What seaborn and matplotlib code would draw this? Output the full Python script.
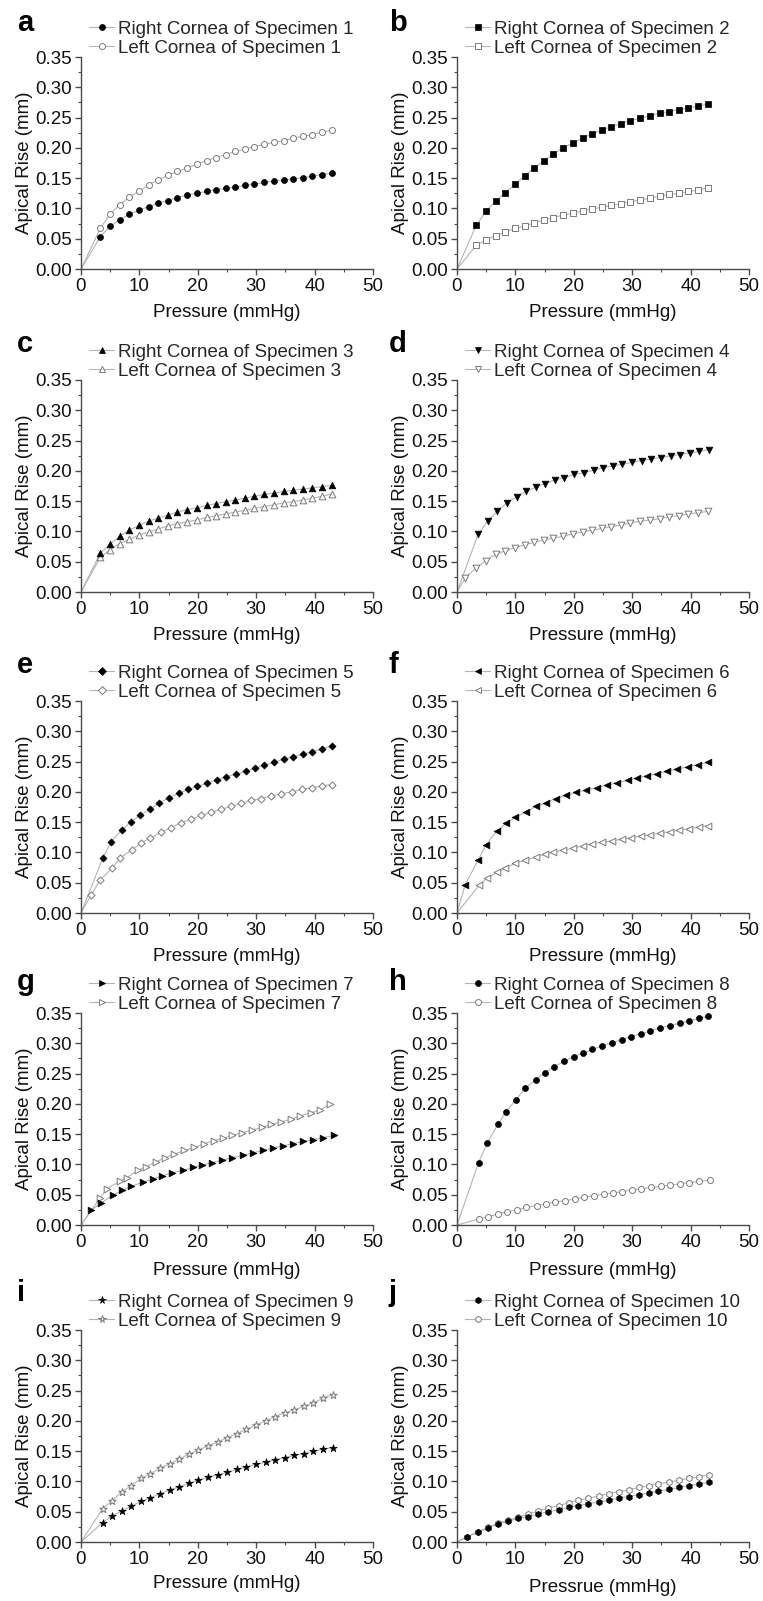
import numpy as np
import matplotlib
matplotlib.use("Agg")
import matplotlib.pyplot as plt
import seaborn as sns
from matplotlib.lines import Line2D
from matplotlib.ticker import MultipleLocator, FormatStrFormatter

# ---------------- data ----------------
P_STD = [3.3, 5.0, 6.6, 8.3, 9.9, 11.6, 13.2, 14.9, 16.5, 18.2, 19.8, 21.5, 23.1,
         24.8, 26.4, 28.1, 29.7, 31.4, 33.0, 34.7, 36.3, 38.0, 39.6, 41.3, 42.9]

A_RIGHT = [0.053, 0.071, 0.081, 0.090, 0.097, 0.103, 0.109, 0.113, 0.118, 0.122, 0.125, 0.128, 0.131,
           0.133, 0.135, 0.138, 0.140, 0.143, 0.145, 0.147, 0.149, 0.151, 0.153, 0.156, 0.158]
A_LEFT = [0.067, 0.091, 0.106, 0.119, 0.128, 0.139, 0.147, 0.155, 0.161, 0.167, 0.173, 0.179, 0.184,
          0.189, 0.194, 0.198, 0.202, 0.206, 0.209, 0.212, 0.216, 0.219, 0.222, 0.226, 0.229]

B_RIGHT = [0.072, 0.096, 0.112, 0.126, 0.140, 0.154, 0.167, 0.179, 0.190, 0.200, 0.208, 0.216, 0.223,
           0.229, 0.235, 0.240, 0.245, 0.249, 0.253, 0.257, 0.260, 0.263, 0.266, 0.269, 0.272]
B_LEFT = [0.039, 0.048, 0.055, 0.061, 0.067, 0.071, 0.076, 0.081, 0.085, 0.089, 0.092, 0.096, 0.099,
          0.102, 0.105, 0.108, 0.111, 0.114, 0.117, 0.120, 0.123, 0.125, 0.128, 0.130, 0.134]

C_RIGHT = [0.064, 0.079, 0.092, 0.102, 0.110, 0.117, 0.122, 0.127, 0.132, 0.136, 0.139, 0.143, 0.146,
           0.149, 0.152, 0.155, 0.158, 0.161, 0.163, 0.166, 0.168, 0.170, 0.172, 0.174, 0.176]
C_LEFT = [0.057, 0.070, 0.080, 0.087, 0.094, 0.099, 0.104, 0.109, 0.113, 0.116, 0.119, 0.123, 0.126,
          0.129, 0.132, 0.135, 0.138, 0.141, 0.144, 0.147, 0.149, 0.152, 0.155, 0.158, 0.162]

D_RIGHT_P = [3.6, 5.3, 6.9, 8.5, 10.2, 11.8, 13.5, 15.1, 16.8, 18.4, 20.1, 21.7, 23.4,
             25.0, 26.7, 28.3, 30.0, 31.6, 33.3, 34.9, 36.6, 38.2, 39.9, 41.5, 43.1]
D_RIGHT = [0.095, 0.118, 0.133, 0.147, 0.157, 0.166, 0.173, 0.179, 0.185, 0.189, 0.194, 0.197, 0.201,
           0.205, 0.208, 0.211, 0.214, 0.217, 0.220, 0.222, 0.225, 0.227, 0.230, 0.232, 0.235]
D_LEFT_P = [1.4, 3.3, 5.0, 6.6, 8.3, 9.9, 11.6, 13.2, 14.9, 16.5, 18.2, 19.8, 21.5,
            23.1, 24.8, 26.4, 28.1, 29.7, 31.4, 33.0, 34.7, 36.3, 38.0, 39.6, 41.3, 42.9]
D_LEFT = [0.023, 0.040, 0.052, 0.062, 0.068, 0.073, 0.078, 0.082, 0.086, 0.089, 0.092, 0.096, 0.099,
          0.102, 0.105, 0.108, 0.111, 0.114, 0.117, 0.119, 0.121, 0.124, 0.126, 0.129, 0.131, 0.133]

E_RIGHT_P = [3.7, 5.1, 7.0, 8.6, 10.1, 11.8, 13.4, 15.0, 16.8, 18.4, 19.9, 21.5, 23.3,
             24.8, 26.5, 28.2, 29.8, 31.4, 33.1, 34.7, 36.3, 38.0, 39.5, 41.3, 42.9]
E_RIGHT = [0.090, 0.117, 0.137, 0.151, 0.161, 0.171, 0.182, 0.190, 0.198, 0.204, 0.209, 0.214, 0.220,
           0.225, 0.229, 0.234, 0.239, 0.244, 0.249, 0.254, 0.258, 0.262, 0.266, 0.271, 0.276]
E_LEFT_P = [1.7, 3.3, 5.3, 6.7, 8.7, 10.2, 11.9, 13.7, 15.4, 17.1, 18.8, 20.6, 22.2,
            23.9, 25.7, 27.4, 29.1, 30.8, 32.5, 34.2, 36.1, 37.8, 39.5, 41.3, 43.0]
E_LEFT = [0.029, 0.055, 0.074, 0.091, 0.104, 0.115, 0.124, 0.133, 0.141, 0.149, 0.155, 0.161, 0.166,
          0.171, 0.176, 0.181, 0.186, 0.189, 0.193, 0.197, 0.200, 0.204, 0.207, 0.210, 0.212]

F_RIGHT_P = [1.4, 3.6, 5.0, 6.8, 8.4, 10.0, 11.8, 13.5, 15.3, 16.9, 18.6, 20.4, 22.1,
             23.9, 25.6, 27.4, 29.2, 30.9, 32.6, 34.2, 35.9, 37.7, 39.5, 41.2, 43.0]
F_RIGHT = [0.047, 0.087, 0.113, 0.135, 0.148, 0.158, 0.167, 0.176, 0.182, 0.189, 0.194, 0.199, 0.203,
           0.207, 0.211, 0.215, 0.219, 0.223, 0.227, 0.230, 0.234, 0.238, 0.241, 0.245, 0.249]
F_LEFT_P = [3.8, 5.2, 6.9, 8.3, 10.0, 11.6, 13.5, 15.0, 16.5, 18.2, 19.9, 21.6, 23.2,
            24.9, 26.6, 28.2, 29.8, 31.5, 33.1, 34.8, 36.4, 38.0, 39.7, 41.4, 43.0]
F_LEFT = [0.046, 0.058, 0.067, 0.075, 0.082, 0.087, 0.092, 0.097, 0.100, 0.104, 0.107, 0.111, 0.114,
          0.117, 0.119, 0.122, 0.124, 0.127, 0.129, 0.132, 0.134, 0.137, 0.139, 0.142, 0.144]

G_RIGHT_P = [1.7, 3.4, 5.4, 7.1, 8.6, 10.7, 12.3, 13.9, 15.5, 17.4, 19.1, 20.8, 22.5,
             24.2, 25.9, 27.7, 29.4, 31.1, 32.8, 34.6, 36.3, 38.0, 39.7, 41.4, 43.3]
G_RIGHT = [0.024, 0.036, 0.049, 0.057, 0.064, 0.071, 0.076, 0.081, 0.086, 0.090, 0.095, 0.099, 0.103,
           0.107, 0.111, 0.115, 0.119, 0.123, 0.127, 0.131, 0.134, 0.138, 0.141, 0.144, 0.148]
G_LEFT_P = [3.3, 4.5, 6.6, 7.8, 9.8, 11.1, 12.8, 14.4, 16.0, 17.7, 19.4, 21.0, 22.7,
            24.3, 25.9, 27.5, 29.3, 31.0, 32.6, 34.3, 36.0, 37.5, 39.3, 40.9, 42.6]
G_LEFT = [0.045, 0.060, 0.072, 0.078, 0.090, 0.096, 0.104, 0.111, 0.117, 0.123, 0.128, 0.134, 0.139,
          0.143, 0.148, 0.152, 0.157, 0.161, 0.166, 0.170, 0.175, 0.180, 0.185, 0.190, 0.199]

H_RIGHT_P = [3.7, 5.2, 7.0, 8.4, 10.1, 11.7, 13.5, 15.0, 16.6, 18.3, 20.0, 21.6, 23.2,
             24.9, 26.6, 28.2, 29.8, 31.5, 33.1, 34.7, 36.4, 38.1, 39.7, 41.4, 43.0]
H_RIGHT = [0.103, 0.136, 0.166, 0.187, 0.207, 0.226, 0.240, 0.251, 0.261, 0.270, 0.278, 0.284, 0.290,
           0.296, 0.301, 0.306, 0.311, 0.316, 0.320, 0.325, 0.329, 0.333, 0.337, 0.341, 0.345]
H_LEFT_P = [3.8, 5.3, 7.0, 8.6, 10.3, 11.8, 13.7, 15.2, 16.7, 18.5, 20.2, 21.8, 23.4,
            25.1, 26.7, 28.3, 29.9, 31.5, 33.3, 34.9, 36.5, 38.1, 39.8, 41.4, 43.3]
H_LEFT = [0.010, 0.014, 0.018, 0.022, 0.025, 0.029, 0.032, 0.035, 0.038, 0.040, 0.043, 0.046, 0.048,
          0.051, 0.053, 0.055, 0.058, 0.060, 0.062, 0.064, 0.066, 0.068, 0.070, 0.072, 0.074]

I_P = [3.7, 5.3, 7.0, 8.6, 10.3, 11.9, 13.6, 15.2, 16.8, 18.5, 20.1, 21.8, 23.4,
       25.0, 26.7, 28.3, 30.0, 31.6, 33.2, 34.9, 36.5, 38.2, 39.8, 41.4, 43.1]
I_RIGHT = [0.032, 0.043, 0.051, 0.059, 0.067, 0.073, 0.080, 0.086, 0.091, 0.097, 0.102, 0.107, 0.111,
           0.115, 0.120, 0.124, 0.128, 0.132, 0.136, 0.139, 0.143, 0.146, 0.150, 0.153, 0.156]
I_LEFT = [0.055, 0.068, 0.083, 0.093, 0.105, 0.113, 0.122, 0.129, 0.137, 0.145, 0.152, 0.159, 0.165,
          0.172, 0.179, 0.186, 0.193, 0.200, 0.207, 0.213, 0.218, 0.224, 0.230, 0.237, 0.243]

J_P = [1.7, 3.6, 5.3, 7.0, 8.8, 10.5, 12.2, 13.9, 15.6, 17.4, 19.1, 20.8, 22.5,
       24.3, 26.0, 27.7, 29.4, 31.1, 32.8, 34.5, 36.3, 38.0, 39.7, 41.5, 43.2]
J_RIGHT = [0.008, 0.016, 0.023, 0.030, 0.034, 0.039, 0.042, 0.046, 0.050, 0.053, 0.057, 0.060, 0.063,
           0.066, 0.069, 0.072, 0.075, 0.078, 0.081, 0.084, 0.087, 0.090, 0.093, 0.096, 0.099]
J_LEFT = [0.009, 0.017, 0.024, 0.031, 0.036, 0.041, 0.046, 0.051, 0.056, 0.060, 0.065, 0.069, 0.072,
          0.076, 0.080, 0.083, 0.086, 0.090, 0.093, 0.096, 0.099, 0.102, 0.105, 0.108, 0.111]

LETTERS = ["a", "b", "c", "d", "e", "f", "g", "h", "i", "j"]
SPECIMENS = ["1", "2", "3", "4", "5", "6", "7", "8", "9", "10"]
X_LABELS = ["Pressure (mmHg)"] * 9 + ["Pressrue (mmHg)"]
Y_LABEL = "Apical Rise (mm)"
X_TICKS = [0, 10, 20, 30, 40, 50]
Y_TICKS = [0.00, 0.05, 0.10, 0.15, 0.20, 0.25, 0.30, 0.35]

SERIES = [
    (P_STD, A_RIGHT, P_STD, A_LEFT),
    (P_STD, B_RIGHT, P_STD, B_LEFT),
    (P_STD, C_RIGHT, P_STD, C_LEFT),
    (D_RIGHT_P, D_RIGHT, D_LEFT_P, D_LEFT),
    (E_RIGHT_P, E_RIGHT, E_LEFT_P, E_LEFT),
    (F_RIGHT_P, F_RIGHT, F_LEFT_P, F_LEFT),
    (G_RIGHT_P, G_RIGHT, G_LEFT_P, G_LEFT),
    (H_RIGHT_P, H_RIGHT, H_LEFT_P, H_LEFT),
    (I_P, I_RIGHT, I_P, I_LEFT),
    (J_P, J_RIGHT, J_P, J_LEFT),
]

# ---------------- style ----------------
MARKERS = ["o", "s", "^", "v", "D", "<", ">", "o", "*", "h"]
MSIZE = [4.3, 4.2, 4.8, 4.8, 3.6, 4.8, 4.8, 4.3, 5.6, 4.5]
LINE_COLOR = "#b4b4b4"
HOLLOW_EDGE = "#7a7a7a"
AXIS_COLOR = "#4a4a4a"
FS = 13.5
XLABEL_OFFSET = [35, 35, 35, 35, 35, 35, 37, 37, 33, 37]

sns.set_style("ticks")
plt.rcParams["font.family"] = ["Liberation Sans", "DejaVu Sans"]

W, H = 763, 1601
fig = plt.figure(figsize=(W / 100, H / 100), dpi=100)

col_left = [81, 457]
row_top = [57, 380, 701, 1013, 1330]
ax_w, ax_h = 292, 212
letter_y = [23, 344, 665, 982, 1293]
letter_x = [17, 389]

for k in range(10):
    r, c = divmod(k, 2)
    left = col_left[c]
    top = row_top[r]
    ax = fig.add_axes([left / W, 1 - (top + ax_h) / H, ax_w / W, ax_h / H])
    pr, vr, pl, vl = SERIES[k]
    m = MARKERS[k]
    ms = MSIZE[k]

    # connecting lines (from origin)
    sns.lineplot(x=[0.0] + list(pl), y=[0.0] + list(vl), ax=ax, color=LINE_COLOR,
                 linewidth=0.8, estimator=None, legend=False, zorder=2)
    sns.lineplot(x=[0.0] + list(pr), y=[0.0] + list(vr), ax=ax, color=LINE_COLOR,
                 linewidth=0.8, estimator=None, legend=False, zorder=2)
    # markers
    s = ms ** 2
    sns.scatterplot(x=pl, y=vl, ax=ax, marker=m, s=s, color="white",
                    edgecolor=HOLLOW_EDGE, linewidth=0.7, legend=False, zorder=3, clip_on=False)
    sns.scatterplot(x=pr, y=vr, ax=ax, marker=m, s=s, color="black",
                    edgecolor="black", linewidth=0.5, legend=False, zorder=4, clip_on=False)

    ax.set_xlim(0, 50)
    ax.set_ylim(0, 0.35)
    ax.set_xticks(X_TICKS)
    ax.set_yticks(Y_TICKS)
    ax.xaxis.set_minor_locator(MultipleLocator(5))
    ax.yaxis.set_minor_locator(MultipleLocator(0.025))
    ax.yaxis.set_major_formatter(FormatStrFormatter("%.2f"))
    for sp in ["top", "right"]:
        ax.spines[sp].set_visible(False)
    for sp in ["left", "bottom"]:
        ax.spines[sp].set_color(AXIS_COLOR)
        ax.spines[sp].set_linewidth(1.0)
    ax.tick_params(which="major", direction="out", length=4, width=1.0,
                   color=AXIS_COLOR, labelsize=FS, pad=2.5, labelcolor="#111111")
    ax.tick_params(which="minor", direction="out", length=2, width=0.8, color=AXIS_COLOR)

    ax.set_xlabel(X_LABELS[k], fontsize=FS, color="#111111")
    ax.set_ylabel(Y_LABEL, fontsize=FS, color="#111111")
    ax.xaxis.set_label_coords(0.5, -XLABEL_OFFSET[k] / ax_h)
    ax.yaxis.set_label_coords(-48 / ax_w, 0.5)

    handles = [
        Line2D([], [], color=LINE_COLOR, lw=0.8, marker=m, markersize=ms,
               markerfacecolor="black", markeredgecolor="black", markeredgewidth=0.5),
        Line2D([], [], color=LINE_COLOR, lw=0.8, marker=m, markersize=ms,
               markerfacecolor="white", markeredgecolor=HOLLOW_EDGE, markeredgewidth=0.7),
    ]
    labels = [f"Right Cornea of Specimen {SPECIMENS[k]}",
              f"Left Cornea of Specimen {SPECIMENS[k]}"]
    ax.legend(handles, labels, loc="lower left", bbox_to_anchor=(8 / ax_w, 1.0),
              frameon=False, fontsize=FS, borderpad=0, borderaxespad=0,
              handlelength=1.35, handletextpad=0.2, labelspacing=0.1, numpoints=1)

    fig.text(letter_x[c] / W, 1 - letter_y[r] / H, LETTERS[k], fontsize=21,
             fontweight="bold", ha="left", va="center", color="black")

fig.savefig("out.png", dpi=100)
